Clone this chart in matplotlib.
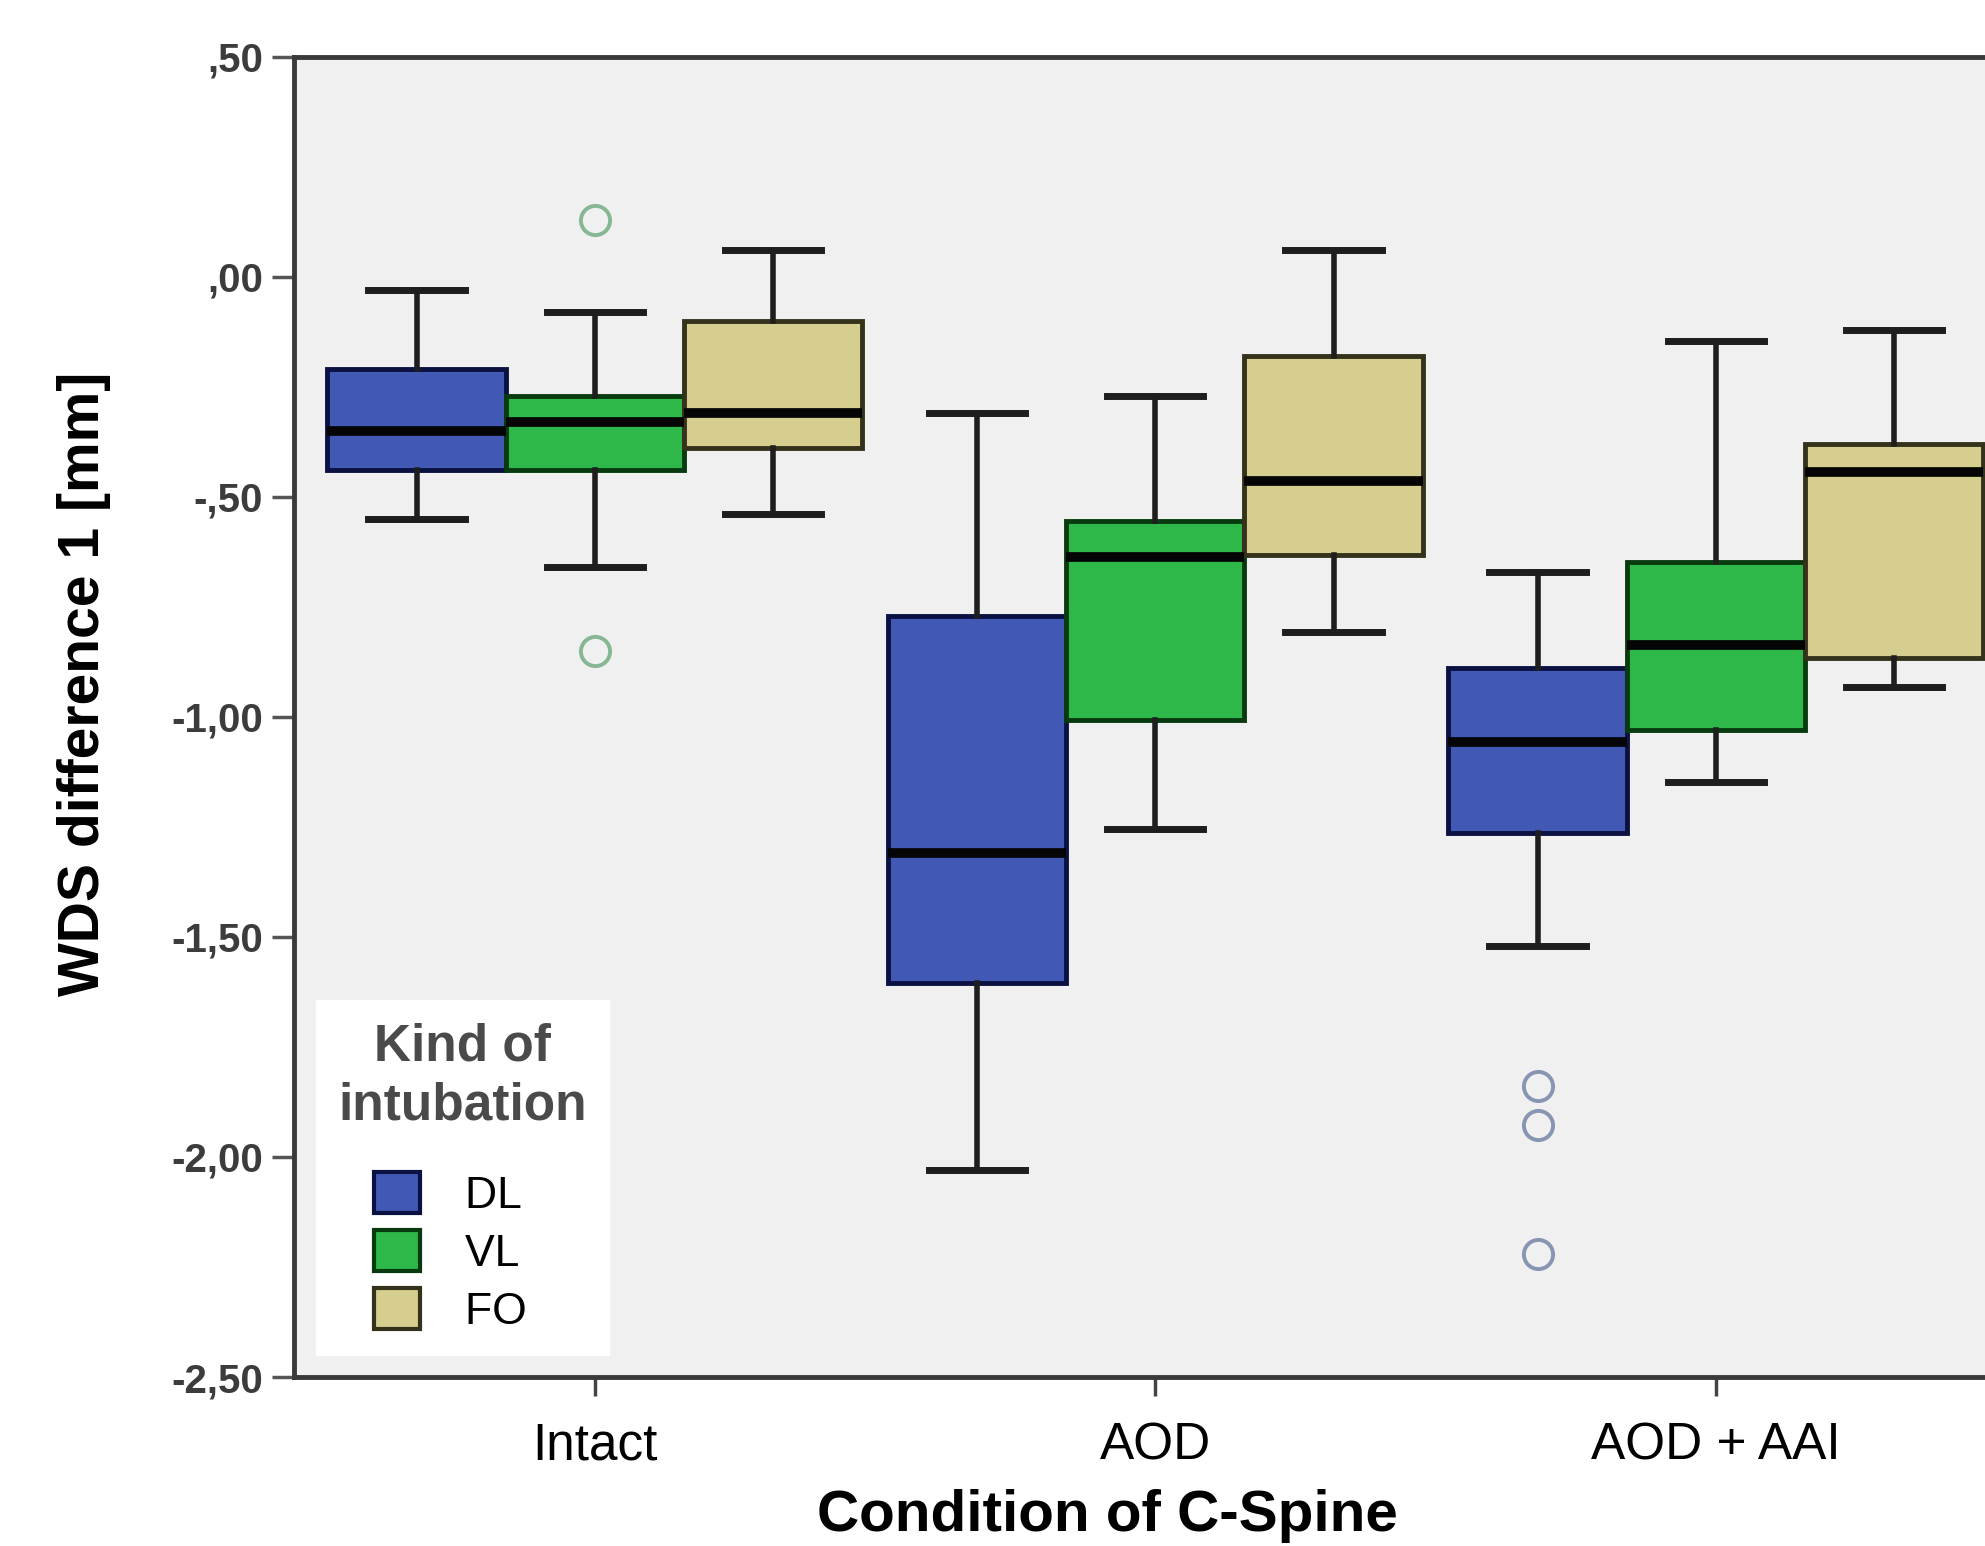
import matplotlib.pyplot as plt
from matplotlib.patches import Patch

# data
conditions = ["Intact", "AOD", "AOD + AAI"]
groups = ["DL", "VL", "FO"]

# per group: one value per condition
whislo = {"DL": [-0.55, -2.03, -1.52], "VL": [-0.66, -1.255, -1.148], "FO": [-0.54, -0.806, -0.932]}
q1 = {"DL": [-0.44, -1.605, -1.263], "VL": [-0.44, -1.007, -1.03], "FO": [-0.39, -0.633, -0.866]}
med = {"DL": [-0.35, -1.31, -1.056], "VL": [-0.33, -0.636, -0.837], "FO": [-0.31, -0.464, -0.443]}
q3 = {"DL": [-0.21, -0.77, -0.89], "VL": [-0.27, -0.556, -0.648], "FO": [-0.10, -0.18, -0.38]}
whishi = {"DL": [-0.03, -0.31, -0.67], "VL": [-0.08, -0.27, -0.147], "FO": [0.06, 0.06, -0.121]}
fliers = {"DL": [[], [], [-1.838, -1.928, -2.221]], "VL": [[0.13, -0.85], [], []], "FO": [[], [], []]}

yticks = [0.5, 0.0, -0.5, -1.0, -1.5, -2.0, -2.5]
ytick_labels = [",50", ",00", "-,50", "-1,00", "-1,50", "-2,00", "-2,50"]

fill = {"DL": "#4159b4", "VL": "#2db849", "FO": "#d5ce8e"}
edge = {"DL": "#0b1242", "VL": "#083a10", "FO": "#35321c"}
flier_col = {"DL": "#8795b3", "VL": "#86b792", "FO": "#a8a47a"}

fnt = ["Liberation Sans", "DejaVu Sans"]

fig = plt.figure(figsize=(19.85, 15.46), dpi=100)
ax = fig.add_axes([0.148, 0.1093, 0.868, 0.854])
ax.set_facecolor("#f0f0f0")

width = 0.318
offsets = [-width, 0.0, width]
for g, off in zip(groups, offsets):
    stats = []
    for i in range(len(conditions)):
        stats.append(dict(whislo=whislo[g][i], q1=q1[g][i], med=med[g][i],
                          q3=q3[g][i], whishi=whishi[g][i], fliers=fliers[g][i]))
    ax.bxp(stats, positions=[i + off for i in range(len(conditions))],
           widths=width, patch_artist=True, showfliers=True, manage_ticks=False,
           boxprops=dict(facecolor=fill[g], edgecolor=edge[g], linewidth=3.5),
           medianprops=dict(color="#050505", linewidth=7, solid_capstyle="butt"),
           whiskerprops=dict(color="#1e1e1e", linewidth=4),
           capprops=dict(color="#1e1e1e", linewidth=5),
           capwidths=width * 0.54,
           flierprops=dict(marker="o", markerfacecolor="none",
                           markeredgecolor=flier_col[g], markersize=21,
                           markeredgewidth=2.8))

ax.set_xlim(-0.537, 2.537)
ax.set_ylim(-2.5, 0.5)
ax.set_xticks(range(len(conditions)))
ax.set_xticklabels(conditions, fontsize=37, family=fnt)
ax.set_yticks(yticks)
ax.set_yticklabels(ytick_labels, fontsize=29, fontweight="bold", color="#3c3c3c",
                   family=fnt)
ax.tick_params(axis="y", length=16, width=2.5, color="#555555", pad=6)
ax.tick_params(axis="x", length=14, width=2.5, color="#444444", pad=18)

for s in ["left", "bottom", "top", "right"]:
    ax.spines[s].set_linewidth(3.5)
    ax.spines[s].set_color("#3a3a3a")

ax.set_ylabel("WDS difference 1 [mm]", fontsize=41, fontweight="bold", family=fnt)
ax.yaxis.set_label_coords(-0.106, 0.525)
ax.set_xlabel("Condition of C-Spine", fontsize=42, fontweight="bold", family=fnt)
ax.xaxis.set_label_coords(0.472, -0.085)

handles = [Patch(facecolor=fill[g], edgecolor=edge[g], linewidth=3) for g in groups]
labels = [g + "  " for g in groups]
leg = ax.legend(handles, labels, title="Kind of\nintubation", loc="lower left",
                bbox_to_anchor=(0.0128, 0.0167), borderaxespad=0,
                title_fontproperties=dict(size=37, weight="bold",
                                          family="Liberation Sans"),
                prop=dict(size=32, family="Liberation Sans"),
                handlelength=1.05, handleheight=1.05, handletextpad=1.0,
                labelspacing=0.3, borderpad=0.5, fancybox=False, framealpha=1,
                edgecolor="white", facecolor="white")
leg.get_title().set_color("#4a4a4a")
leg.get_title().set_multialignment("center")
leg.get_title().set_linespacing(1.25)
leg._legend_box.sep = 30

fig.savefig("out.png", dpi=100)
